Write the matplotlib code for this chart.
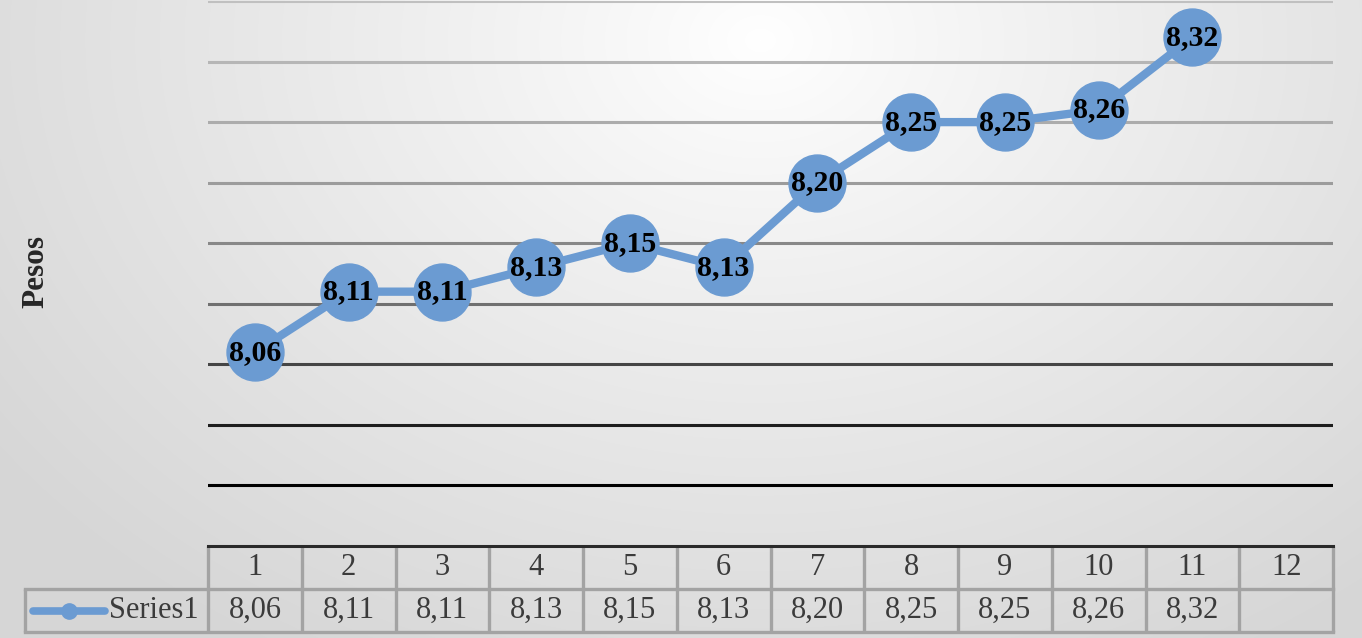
import numpy as np
import matplotlib
matplotlib.use("Agg")
import matplotlib.pyplot as plt
from matplotlib.lines import Line2D

# ---- data ----
categories = ["1", "2", "3", "4", "5", "6", "7", "8", "9", "10", "11", "12"]
values = [8.06, 8.11, 8.11, 8.13, 8.15, 8.13, 8.20, 8.25, 8.25, 8.26, 8.32]
series_name = "Series1"
y_label = "Pesos"
y_ticks = [7.95, 8.00, 8.05, 8.10, 8.15, 8.20, 8.25, 8.30, 8.35]

W, H = 1362, 638
DPI = 100
SERIF = ["Liberation Serif", "DejaVu Serif"]
BLUE = "#6b9bd2"
TXT = "#3b3b3b"

def fmt(v):
    return f"{v:.2f}".replace(".", ",")

fig = plt.figure(figsize=(W / DPI, H / DPI), dpi=DPI)

# ---- background radial gradient ----
bg = fig.add_axes([0, 0, 1, 1], zorder=-10)
yy, xx = np.mgrid[0:H, 0:W]
cx, cy = 760, 40
r = np.sqrt(((xx - cx) / 950.0) ** 2 + ((yy - cy) / 720.0) ** 2)
r = np.clip(r, 0, 1)
shade = 1.0 - 0.16 * r ** 0.9
bg.imshow(np.dstack([shade, shade, shade]), aspect="auto", extent=[0, 1, 0, 1], origin="upper")
bg.axis("off")

def px_ax(l, t, r_, b):
    return [l / W, (H - b) / H, (r_ - l) / W, (b - t) / H]

# ---- main plot ----
ax = fig.add_axes(px_ax(208, 1, 1333, 546))
ax.set_facecolor("none")
n = len(categories)
x = np.arange(1, n + 1)
ax.set_xlim(0.5, n + 0.5)
ax.set_ylim(7.90, 8.35)
for s in ax.spines.values():
    s.set_visible(False)
ax.set_xticks([])
ax.set_yticks([])

# gridlines, light at top to black at bottom
grid_cols = ["#000000", "#1e1e1e", "#454545", "#707070", "#888888", "#9c9c9c", "#acacac", "#b6b6b6", "#c0c0c0"]
for yt, c in zip(y_ticks, grid_cols):
    ax.axhline(yt, color=c, lw=2.2, zorder=1)

xv = x[:len(values)]
ax.plot(xv, values, color=BLUE, lw=6.0, marker="o", markersize=41,
        markerfacecolor=BLUE, markeredgecolor=BLUE, zorder=3, clip_on=False)
for xi, v in zip(xv, values):
    ax.text(xi, v, fmt(v), ha="center", va="center", fontsize=21.5,
            fontweight="bold", family=SERIF, color="black", zorder=4)

# y label
fig.text(36 / W, 1 - 272 / H, y_label, rotation=90, ha="center", va="center",
         fontsize=22.5, fontweight="bold", family=SERIF, color="#262626")

# ---- data table ----
left_px = 25
tab = fig.add_axes(px_ax(left_px, 546, 1333, 632))
tab.set_facecolor("none")
x0 = 0.5 - (208 - left_px) / (1125 / n)
tab.set_xlim(x0, n + 0.5)
tab.set_ylim(0, 2)
tab.axis("off")

bc = "#a3a3a3"
blw = 2.4
# vertical lines
for xb in np.arange(0.5, n + 1.0, 1.0):
    tab.plot([xb, xb], [0, 2], color=bc, lw=blw, solid_capstyle="butt", clip_on=False)
tab.plot([x0, x0], [0, 1], color=bc, lw=blw, solid_capstyle="butt", clip_on=False)
# horizontal lines
tab.plot([x0, n + 0.5], [1, 1], color=bc, lw=blw, clip_on=False)
tab.plot([x0, n + 0.5], [0, 0], color=bc, lw=blw, clip_on=False)
tab.plot([0.5, n + 0.5], [2, 2], color="#2a2a2a", lw=2.2, clip_on=False)

for xi, c in zip(x, categories):
    tab.text(xi, 1.5, c, ha="center", va="center", fontsize=22, family=SERIF, color=TXT)
for xi, v in zip(xv, values):
    tab.text(xi, 0.5, fmt(v), ha="center", va="center", fontsize=22, family=SERIF, color=TXT)

# legend key in table
lx0 = x0 + (33 - left_px) / (1125 / n)
lx1 = x0 + (105 - left_px) / (1125 / n)
tab.add_line(Line2D([lx0, lx1], [0.5, 0.5], color=BLUE, lw=5.5, solid_capstyle="round"))
tab.plot([(lx0 + lx1) / 2], [0.5], marker="o", markersize=11, color=BLUE)
tab.text(x0 + (109 - left_px) / (1125 / n), 0.5, series_name, ha="left", va="center",
         fontsize=22, family=SERIF, color=TXT)

fig.savefig("out.png", dpi=DPI)
